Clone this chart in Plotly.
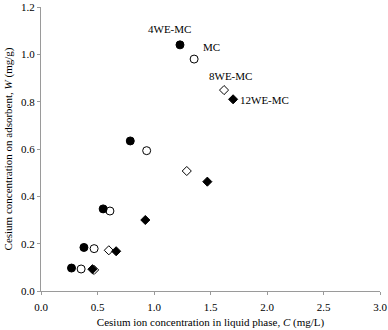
import plotly.graph_objects as go

# Data
x_4we = [0.27, 0.38, 0.55, 0.79, 1.23]
y_4we = [0.097, 0.184, 0.347, 0.634, 1.040]

x_mc = [0.355, 0.47, 0.61, 0.935, 1.355]
y_mc = [0.093, 0.179, 0.338, 0.593, 0.980]

x_8we = [0.47, 0.60, 1.29, 1.62]
y_8we = [0.089, 0.172, 0.507, 0.849]

x_12we = [0.455, 0.665, 0.923, 1.472, 1.70]
y_12we = [0.092, 0.168, 0.300, 0.462, 0.810]

series_labels = ["4WE-MC", "MC", "8WE-MC", "12WE-MC"]
label_x = [1.14, 1.51, 1.675, 1.975]
label_y = [1.107, 1.031, 0.908, 0.807]

x_ticks = [0.0, 0.5, 1.0, 1.5, 2.0, 2.5, 3.0]
y_ticks = [0.0, 0.2, 0.4, 0.6, 0.8, 1.0, 1.2]

font_family = "Liberation Serif"
axis_color = "#9a9a9a"

fig = go.Figure()
fig.add_trace(go.Scatter(x=x_4we, y=y_4we, mode="markers", name=series_labels[0],
                         marker=dict(symbol="circle", size=8, color="black",
                                     line=dict(color="black", width=1))))
fig.add_trace(go.Scatter(x=x_mc, y=y_mc, mode="markers", name=series_labels[1],
                         marker=dict(symbol="circle-open", size=8, color="black",
                                     line=dict(color="black", width=1))))
fig.add_trace(go.Scatter(x=x_8we, y=y_8we, mode="markers", name=series_labels[2],
                         marker=dict(symbol="diamond-open", size=7, color="black",
                                     line=dict(color="black", width=1))))
fig.add_trace(go.Scatter(x=x_12we, y=y_12we, mode="markers", name=series_labels[3],
                         marker=dict(symbol="diamond", size=7, color="black",
                                     line=dict(color="black", width=1))))

for t, lx, ly in zip(series_labels, label_x, label_y):
    fig.add_annotation(x=lx, y=ly, text=t, showarrow=False, xref="x", yref="y",
                       font=dict(family=font_family, size=11, color="black"))

fig.update_layout(
    width=388, height=330,
    margin=dict(l=41, r=8, t=7, b=39),
    paper_bgcolor="white", plot_bgcolor="white",
    showlegend=False,
    font=dict(family=font_family, size=11, color="black"),
)
fig.update_xaxes(range=[0, 3.0], tickvals=x_ticks,
                 ticktext=[f"{v:.1f}" for v in x_ticks],
                 showgrid=False, zeroline=False, showline=True,
                 linecolor=axis_color, linewidth=1, automargin=False,
                 ticks="outside", ticklen=3, tickcolor=axis_color,
                 ticklabelstandoff=3,
                 tickfont=dict(family=font_family, size=11, color="black"),
                 title=dict(text="Cesium ion concentration in liquid phase, <i>C</i> (mg/L)",
                            font=dict(family=font_family, size=11, color="black"),
                            standoff=6))
fig.update_yaxes(range=[0, 1.2], tickvals=y_ticks,
                 ticktext=[f"{v:.1f}" for v in y_ticks],
                 showgrid=False, zeroline=False, showline=True,
                 linecolor=axis_color, linewidth=1, automargin=False,
                 ticks="outside", ticklen=3, tickcolor=axis_color,
                 tickfont=dict(family=font_family, size=11, color="black"),
                 title=dict(text="Cesium concentration on adsorbent, <i>W</i> (mg/g)",
                            font=dict(family=font_family, size=11, color="black"),
                            standoff=6))

fig.write_html("out.html", config={"displayModeBar": False},
               post_script="document.body.style.margin='0';document.body.style.overflow='hidden';")
